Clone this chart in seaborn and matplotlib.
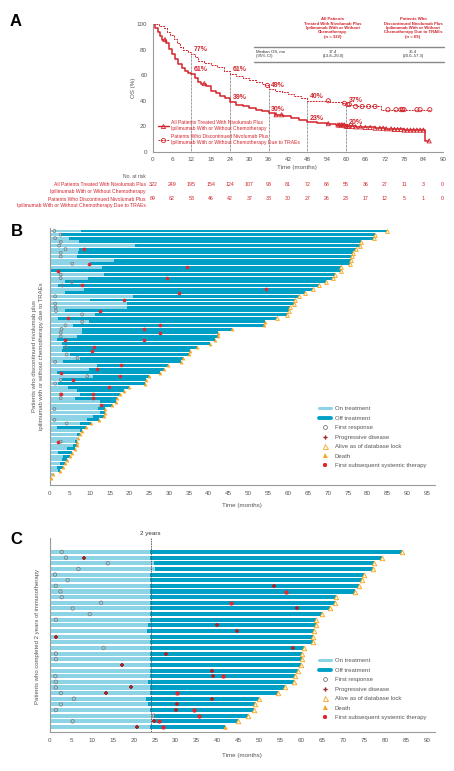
import numpy as np
import pandas as pd
import matplotlib
matplotlib.use("Agg")
import matplotlib.pyplot as plt
import seaborn as sns
from matplotlib.lines import Line2D
from matplotlib import transforms

sns.set_style("white")
plt.rcParams['font.family'] = ['Liberation Sans', 'DejaVu Sans']

# ---------------- Panel A data ----------------
km_all_t = [0, 0.8, 1.5, 2.2, 3.0, 4.0, 5.0, 6.0, 7.0, 8.0, 9.0, 10.0, 11.0, 12.0, 13.0, 14.0, 15.0,
            16.5, 18.0, 19.5, 21.0, 22.5, 24.0, 26.0, 28.0, 30.0, 32.0, 34.0, 36.0, 38.0, 40.5, 43.0,
            45.5, 48.0, 51.0, 54.0, 57.0, 60.0, 63.0, 66.0, 69.0, 72.0, 75.0, 78.0, 84.6, 85.8]
km_all_s = [100, 97, 94, 91, 88, 85, 81, 77, 73, 69, 66, 63.5, 62, 61, 58, 55, 53.5,
            51.5, 48, 46, 44, 42, 39, 37, 35.5, 34.5, 33, 32, 30, 29, 28, 26.5,
            25, 23, 22.5, 22, 21, 20, 19.5, 19, 18.5, 18, 17.5, 17, 8.5, 8.5]
km_trae_t = [0, 2.0, 3.5, 4.5, 5.5, 6.5, 7.5, 8.5, 9.5, 11.0, 12.0, 13.0, 14.0, 16.0, 18.0, 20.0,
             22.0, 24.0, 26.0, 28.0, 30.0, 32.0, 34.0, 35.0, 36.0, 38.0, 40.0, 42.0, 44.0, 46.0,
             48.0, 52.0, 55.0, 59.0, 60.0, 63.0, 66.0, 71.0, 86.0]
km_trae_s = [100, 98.5, 97, 94, 91.5, 88.5, 85.5, 82.5, 80, 78.5, 77, 74, 71, 70, 68, 66.5,
             63.5, 61, 59.5, 58, 56.5, 55, 53.5, 52, 49, 48, 46.5, 45, 43.5, 42,
             40, 40, 39, 38, 37, 35.5, 35.5, 33, 33]
cens_all_t = [3.8, 16.0, 38.3, 40.0, 54.5, 57.5, 58.0, 58.5, 59.0, 59.5, 60.0, 60.5, 61.0, 62.0,
              63.0, 64.5, 66.0, 67.5, 69.0, 70.5, 71.5, 72.5, 74.0, 75.0, 76.0, 77.0, 78.0, 79.0,
              80.0, 81.0, 82.0, 83.0, 84.0, 85.8]
cens_trae_t = [35.6, 54.5, 59.5, 60.5, 61.0, 63.0, 65.0, 67.0, 69.0, 73.0, 75.5, 77.0, 77.5,
               78.0, 82.0, 83.0, 86.0]
landmark_t = [12, 24, 36, 48, 60]
landmark_all = [61, 39, 30, 23, 20]
landmark_trae = [77, 61, 49, 40, 37]
risk_times = [0, 6, 12, 18, 24, 30, 36, 42, 48, 54, 60, 66, 72, 78, 84, 90]
risk_all = [322, 249, 195, 154, 124, 107, 93, 81, 72, 68, 55, 36, 27, 11, 3, 0]
risk_trae = [69, 62, 53, 46, 42, 37, 33, 30, 27, 26, 23, 17, 12, 5, 1, 0]
label_all = "All Patients Treated With Nivolumab Plus\nIpilimumab With or Without Chemotherapy"
label_trae = "Patients Who Discontinued Nivolumab Plus\nIpilimumab With or Without Chemotherapy Due to TRAEs"
table_head_all = "All Patients\nTreated With Nivolumab Plus\nIpilimumab With or Without\nChemotherapy\n(n = 322)"
table_head_trae = "Patients Who\nDiscontinued Nivolumab Plus\nIpilimumab With or Without\nChemotherapy Due to TRAEs\n(n = 69)"
table_row = "Median OS, mo\n(95% CI)"
table_all = "17.4\n(13.8\u201320.0)"
table_trae = "35.4\n(20.0\u201357.3)"

# ---------------- Panel B data (69 patients) ----------------
nan = np.nan
b_end = [84.8, 81.9, 81.7, 78.3, 78.1, 77.2, 76.4, 76.1, 75.8, 75.5, 73.2, 73.2, 71.8, 71.4, 69.6,
         67.8, 66.2, 64.2, 62.6, 61.6, 61.4, 60.5, 60.2, 59.6, 57.1, 54.1, 53.8, 45.9, 42.4, 42.4,
         41.6, 40.3, 37.0, 35.3, 35.1, 33.4, 33.0, 29.8, 28.8, 27.7, 25.0, 24.1, 23.9, 19.9, 18.7,
         17.6, 17.0, 16.6, 15.7, 13.8, 13.8, 13.7, 12.4, 10.3, 9.1, 8.0, 7.6, 7.1, 6.9, 6.7,
         6.3, 5.5, 5.0, 4.2, 3.8, 3.2, 2.5, 0.8, 0.3]
b_on = [7.7, 2.8, 4.8, 7.3, 21.4, 7.3, 7.1, 6.7, 16.0, 10.1, 13.0, 0.3, 13.7, 9.5, 3.8,
        2.0, 8.6, 3.8, 21.0, 10.0, 19.5, 19.3, 3.9, 11.3, 1.9, 9.7, 5.9, 8.0, 8.0, 6.7,
        1.7, 2.9, 3.4, 2.9, 5.0, 7.6, 3.4, 11.8, 9.7, 1.7, 10.9, 2.9, 2.1, 4.6, 6.7,
        7.6, 6.3, 12.6, 12.6, 12.2, 12.6, 10.9, 9.2, 7.6, 1.7, 7.6, 6.7, 7.1, 6.3, 5.9,
        4.2, 2.1, 3.4, 2.9, 2.5, 1.7, 2.1, 0.8, 0.3]
b_resp = [1.1, 2.7, 1.3, 2.7, 2.3, 3.9, 2.7, 2.7, nan, 5.6, nan, nan, 2.7, 2.7, 5.5,
          3.1, nan, nan, 1.3, nan, 1.3, 1.4, 1.5, 8.1, nan, 8.1, 3.9, 2.9, 2.7, 2.7,
          nan, nan, 4.0, nan, 4.2, 6.9, 1.3, nan, nan, nan, 9.4, 2.7, 1.3, nan, nan,
          2.7, 2.7, nan, nan, 1.1, nan, nan, 1.1, 4.2, nan, nan, nan, nan, 2.7, nan,
          nan, nan, nan, nan, nan, nan, nan, nan, nan]
b_pd = [30.0, nan, nan, 19.3, 54.7, nan, nan, nan, 22.0, nan, 6.7, nan, nan, 5.5, 4.0,
        nan, 50.3, 40.0, nan, 22.1, 7.1, 6.9, 10.9, nan, nan, 44.1, 24.1, 19.3, 19.3, nan,
        2.8, 11.2, 8.0, 2.7, nan, nan, 13.7, 4.0, 9.5, 22.1, 16.4, nan, 18.7, 11.2, nan,
        5.6, nan, nan, 13.7, 5.2, nan, 2.8, nan, nan, 1.1, 1.1, 4.0, nan, 1.1, nan,
        nan, nan, nan, 0.8, nan, 1.1, nan, nan, nan]
b_pd2 = [nan, nan, nan, nan, nan, nan, nan, nan, nan, nan, nan, nan, nan, nan, nan,
         nan, nan, nan, nan, 52.2, nan, 11.0, 13.7, nan, nan, nan, nan, nan, 24.2, nan,
         nan, nan, nan, nan, nan, nan, nan, nan, nan, nan, nan, nan, nan, nan, nan,
         nan, nan, nan, nan, 12.4, nan, nan, nan, nan, nan, nan, nan, nan, nan, nan,
         nan, nan, nan, nan, nan, nan, nan, nan, nan]
b_sst = [nan, nan, nan, nan, nan, 8.6, nan, nan, nan, 9.7, 34.6, 1.9, nan, 29.5, nan,
         8.0, 54.3, 32.6, nan, 18.7, nan, nan, 12.6, nan, 4.6, nan, 27.7, 23.8, 27.7, nan,
         3.8, nan, 11.0, 10.5, nan, nan, nan, 17.9, 11.9, 2.7, 17.6, 5.7, nan, 14.9, nan,
         2.7, 10.9, nan, 12.8, nan, nan, nan, nan, nan, nan, nan, nan, nan, 2.1, nan,
         nan, nan, nan, nan, nan, nan, nan, nan, nan]
b_sst2 = [nan] * 30 + [23.7] + [nan] * 14 + [10.9] + [nan] * 23
b_status = "AAAAAAAAAAAAAAAAAAAAAAAAA" + "DDDDDDDDDDDDDDDDDDDDDDDDDDDDDDDDDDDDDDDDDDDD"

# ---------------- Panel C data (32 patients) ----------------
c_end = [84.1, 79.3, 77.3, 77.2, 75.0, 74.4, 73.8, 72.9, 68.3, 68.1, 66.8, 64.8, 63.4, 63.4, 63.0,
         62.8, 62.7, 60.6, 60.2, 60.1, 60.0, 59.2, 58.4, 58.2, 56.1, 54.3, 49.9, 48.9, 48.7, 47.2,
         44.8, 41.7]
c_on = [23.8, 23.8, 24.8, 25.1, 23.8, 23.8, 23.8, 23.8, 23.8, 23.8, 23.8, 23.8, 23.8, 23.5, 23.1,
        23.8, 23.8, 23.8, 23.8, 23.8, 23.8, 23.8, 23.8, 23.5, 23.8, 23.8, 22.9, 23.3, 23.8, 24.8,
        24.6, 23.8]
c_resp = [2.8, 3.8, 13.8, 6.8, 1.2, 4.2, 1.4, 2.5, 2.8, 12.2, 5.4, 9.5, 1.4, nan, nan, nan,
          nan, 12.8, 1.4, 1.4, nan, nan, 1.3, 1.4, 1.4, 2.6, 5.7, 2.6, 1.4, 24.8, 5.4, nan]
c_pd = [nan, 8.0, nan, nan, nan, nan, 53.5, nan, nan, nan, 58.9, nan, nan, 39.9, 44.7, 1.4,
        nan, 57.9, 27.6, nan, 17.3, 38.6, 39.0, nan, 19.3, 13.3, 38.7, 30.2, 30.0, nan, 24.9, 20.8]
c_sst = [nan, nan, nan, nan, nan, nan, nan, 56.3, nan, 43.2, nan, nan, nan, nan, nan, nan,
         nan, nan, nan, nan, nan, nan, 41.4, nan, nan, 30.2, nan, nan, 34.4, 35.6, 26.1, 26.9]
c_status = "AAAAAAAAAAAAAAAAAAAAAAAAAAAAAAAD"

legend_labels = ["On treatment", "Off treatment", "First response", "Progressive disease",
                 "Alive as of database lock", "Death", "First subsequent systemic therapy"]

# ---------------- styling ----------------
RED = '#d2232a'
ON_C = '#8dd3e6'
OFF_C = '#00a0c6'
RESP_C = '#7a7a7a'
PD_C = '#9e2a2b'
SST_C = '#e2252b'
TRI_C = '#f6a623'
GRAY = '#555555'
AX_C = '#9a9a9a'

W, H = 454, 771
def fx(x): return x / W
def fy(y): return 1 - y / H

fig = plt.figure(figsize=(W / 100, H / 100), dpi=100)

def style_axis(ax):
    for s in ['top', 'right']:
        ax.spines[s].set_visible(False)
    for s in ['left', 'bottom']:
        ax.spines[s].set_color(AX_C)
        ax.spines[s].set_linewidth(0.8)
    ax.tick_params(axis='both', labelsize=4.5, length=2, width=0.5, color=AX_C,
                   labelcolor=GRAY, pad=2)

# ================= Panel A =================
axA = fig.add_axes([fx(152.7), fy(151.7), (442.7 - 152.7) / W, (151.7 - 24.3) / H])
sns.lineplot(x=km_all_t, y=km_all_s, drawstyle='steps-post', color=RED, lw=1.1, ax=axA)
sns.lineplot(x=km_trae_t, y=km_trae_s, drawstyle='steps-post', color=RED, lw=0.7,
             linestyle=(0, (2, 1)), ax=axA)

def step_val(tt, ts, ss):
    idx = np.searchsorted(np.asarray(ts), np.asarray(tt), side='right') - 1
    return np.asarray(ss)[idx]

axA.scatter(cens_all_t, step_val(cens_all_t, km_all_t, km_all_s), marker='^', s=9,
            facecolors='none', edgecolors=RED, linewidths=0.6, zorder=4)
axA.scatter(cens_trae_t, step_val(cens_trae_t, km_trae_t, km_trae_s), marker='o', s=9,
            facecolors='none', edgecolors=RED, linewidths=0.6, zorder=4)
for t, va, vt in zip(landmark_t, landmark_all, landmark_trae):
    axA.plot([t, t], [0, vt], linestyle=(0, (1, 1)), color='#333333', lw=0.5, zorder=1)
    axA.text(t + 0.8, vt + 3.2, f"{vt}%", color=RED, fontsize=5, ha='left', va='center',
             fontweight='bold')
    axA.text(t + 0.8, va + 3.2, f"{va}%", color=RED, fontsize=5, ha='left', va='center',
             fontweight='bold')
axA.set_xlim(0, 90)
axA.set_ylim(0, 100)
axA.set_xticks(risk_times)
axA.set_yticks([0, 20, 40, 60, 80, 100])
axA.set_xlabel('')
axA.set_ylabel('')
style_axis(axA)
fig.text(fx(133), fy(88), "OS (%)", rotation=90, ha='center', va='center', fontsize=4.5, color=GRAY)
fig.text(fx(297), fy(168), "Time (months)", ha='center', va='center', fontsize=4.5, color=GRAY)

handlesA = [Line2D([], [], color=RED, lw=1.0, marker='^', mfc='none', mec=RED, ms=3, mew=0.6),
            Line2D([], [], color=RED, lw=0.7, linestyle=(0, (2, 1)), marker='o', mfc='none',
                   mec=RED, ms=3, mew=0.6)]
legA = fig.legend(handlesA, [label_all, label_trae], loc='upper left',
                  bbox_to_anchor=(fx(155), fy(118)), frameon=False, fontsize=3.6,
                  handlelength=2.2, handletextpad=0.5, borderpad=0, labelspacing=0.6)
for t in legA.get_texts():
    t.set_color(RED)

# table
fig.text(fx(333), fy(28), table_head_all, ha='center', va='center', fontsize=3.1, color=RED,
         fontweight='bold', linespacing=1.15)
fig.text(fx(413), fy(28), table_head_trae, ha='center', va='center', fontsize=3.1, color=RED,
         fontweight='bold', linespacing=1.15)
fig.add_artist(Line2D([fx(254), fx(444)], [fy(46.7), fy(46.7)], color='#888888', lw=1.0))
fig.add_artist(Line2D([fx(254), fx(444)], [fy(61.7), fy(61.7)], color='#888888', lw=1.0))
fig.text(fx(256), fy(54), table_row, ha='left', va='center', fontsize=3.1, color='#333333',
         linespacing=1.3)
fig.text(fx(333), fy(54), table_all, ha='center', va='center', fontsize=3.1, color='#333333',
         linespacing=1.3)
fig.text(fx(413), fy(54), table_trae, ha='center', va='center', fontsize=3.1, color='#333333',
         linespacing=1.3)

# number at risk
trA = transforms.blended_transform_factory(axA.transData, fig.transFigure)
fig.text(fx(146), fy(176), "No. at risk", ha='right', va='center', fontsize=3.6, color=GRAY)
fig.text(fx(146), fy(188), label_all, ha='right', va='center', fontsize=3.6, color=RED,
         linespacing=1.3)
fig.text(fx(146), fy(202.5), label_trae, ha='right', va='center', fontsize=3.6, color=RED,
         linespacing=1.3)
for t, n1, n2 in zip(risk_times, risk_all, risk_trae):
    axA.text(t, fy(185), str(n1), transform=trA, ha='center', va='center', fontsize=3.8, color=RED)
    axA.text(t, fy(199), str(n2), transform=trA, ha='center', va='center', fontsize=3.8, color=RED)

fig.text(fx(10), fy(22), "A", fontsize=12, fontweight='bold', ha='left', va='center', color='black')

# ================= swimmer helper =================
def swimmer(ax, end, on, resp, pds, ssts, status, prefix, bw, ms):
    n = len(end)
    df = pd.DataFrame({'row': [f'{prefix}{i:02d}' for i in range(n)], 'end': end, 'on': on})
    sns.barplot(data=df, y='row', x='end', orient='h', color=OFF_C, saturation=1, width=bw,
                linewidth=0, errorbar=None, ax=ax)
    sns.barplot(data=df, y='row', x='on', orient='h', color=ON_C, saturation=1, width=bw,
                linewidth=0, errorbar=None, ax=ax)
    rows = np.arange(n)
    ax.scatter(resp, rows, marker='o', s=ms * 0.9, facecolors='none', edgecolors=RESP_C,
               linewidths=0.55, zorder=4)
    for p in pds:
        ax.scatter(p, rows, marker='P', s=ms * 0.9, color=PD_C, linewidths=0, zorder=5)
    for s in ssts:
        ax.scatter(s, rows, marker='8', s=ms * 1.5, color=SST_C, linewidths=0, zorder=5)
    alive = np.array([c == 'A' for c in status])
    endarr = np.asarray(end)
    ax.scatter(endarr[alive], rows[alive], marker='^', s=ms * 1.5, facecolors='#fff6d8',
               edgecolors=TRI_C, linewidths=0.6, zorder=6)
    ax.scatter(endarr[~alive], rows[~alive], marker='^', s=ms * 1.5, color=TRI_C,
               linewidths=0, zorder=6)
    ax.set_yticks([])
    ax.set_xlabel('')
    ax.set_ylabel('')
    style_axis(ax)
    ax.tick_params(axis='y', length=0)

def swim_legend(top_y):
    hs = [Line2D([], [], color=ON_C, lw=2.2),
          Line2D([], [], color=OFF_C, lw=2.8),
          Line2D([], [], ls='none', marker='o', mfc='none', mec=RESP_C, ms=2.8, mew=0.6),
          Line2D([], [], ls='none', marker='P', color=PD_C, ms=3.0, mew=0),
          Line2D([], [], ls='none', marker='^', mfc='white', mec=TRI_C, ms=3.6, mew=0.6),
          Line2D([], [], ls='none', marker='^', color=TRI_C, ms=3.6, mew=0),
          Line2D([], [], ls='none', marker='8', color=SST_C, ms=3.6, mew=0)]
    lg = fig.legend(hs, legend_labels, loc='upper left', bbox_to_anchor=(fx(316), fy(top_y)),
                    frameon=False, fontsize=4.3, handlelength=2.0, handletextpad=0.6,
                    borderpad=0, labelspacing=0.72)
    for t in lg.get_texts():
        t.set_color(GRAY)

# ================= Panel B =================
axB = fig.add_axes([fx(50), fy(485), 385 / W, (485 - 228) / H])
swimmer(axB, b_end, b_on, b_resp, [b_pd, b_pd2], [b_sst, b_sst2], b_status, 'b', 0.82, 5)
axB.set_xlim(0, 385 / 3.97)
axB.set_ylim((485 - 231) / 3.632, -(231 - 228) / 3.632)
axB.set_xticks(np.arange(0, 96, 5))
fig.text(fx(242), fy(505), "Time (months)", ha='center', va='center', fontsize=4.5, color=GRAY)
fig.text(fx(38), fy(356),
         "Patients who discontinued nivolumab plus\nipilimumab with or without chemotherapy due to TRAEs",
         rotation=90, ha='center', va='center', fontsize=4.3, color=GRAY, linespacing=1.5)
swim_legend(403)
fig.text(fx(11), fy(231), "B", fontsize=12, fontweight='bold', ha='left', va='center', color='black')

# ================= Panel C =================
axC = fig.add_axes([fx(50), fy(732), 385 / W, (732 - 538) / H])
swimmer(axC, c_end, c_on, c_resp, [c_pd], [c_sst], c_status, 'c', 0.72, 7)
axC.set_xlim(0, 385 / 4.19)
axC.set_ylim((732 - 552) / 5.645, -(552 - 538) / 5.645)
axC.set_xticks(np.arange(0, 91, 5))
axC.axvline(24, color='#555555', lw=0.6, linestyle=(0, (2, 1)), zorder=3)
fig.text(fx(150.6), fy(533), "2 years", ha='center', va='center', fontsize=4.5, color='#333333')
fig.text(fx(242), fy(755), "Time (months)", ha='center', va='center', fontsize=4.5, color=GRAY)
fig.text(fx(38), fy(637), "Patients who completed 2 years of immunotherapy", rotation=90,
         ha='center', va='center', fontsize=4.3, color=GRAY)
swim_legend(655)
fig.text(fx(10), fy(540), "C", fontsize=12, fontweight='bold', ha='left', va='center', color='black')

fig.savefig("out.png", dpi=100)
